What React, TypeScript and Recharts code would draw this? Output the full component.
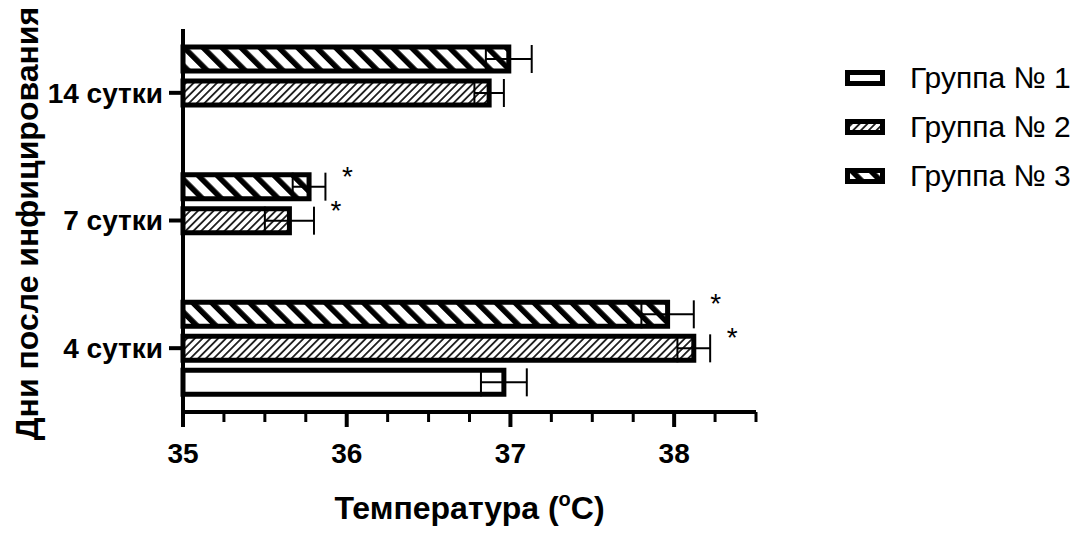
import React from 'react';
import { BarChart, Bar, XAxis, YAxis, ErrorBar, LabelList, Label } from 'recharts';

// values (°C), top category first
const days = ['14 сутки', '7 сутки', '4 сутки'];
const group1 = [null, null, 36.96];
const group1Err = [null, null, 0.14];
const group2 = [36.87, 35.65, 38.12];
const group2Err = [0.09, 0.15, 0.1];
const group3 = [36.99, 35.77, 37.96];
const group3Err = [0.14, 0.1, 0.16];
const group2Star = [false, true, true];
const group3Star = [false, true, true];

const xTicks = [35, 35.25, 35.5, 35.75, 36, 36.25, 36.5, 36.75, 37, 37.25, 37.5, 37.75, 38, 38.25, 38.5];
const xLabels = [35, 36, 37, 38];
const groupNames = ['Группа № 1', 'Группа № 2', 'Группа № 3'];
const groupFills = ['#fff', 'url(#hatchThin)', 'url(#hatchThick)'];

const data = days.map((day, i) => ({
  day,
  g1: group1[i],
  g1e: group1Err[i],
  g2: group2[i],
  g2e: group2Err[i],
  g3: group3[i],
  g3e: group3Err[i],
}));

const FONT = '"Liberation Sans", Arial, sans-serif';

const XTick = (props: any) => {
  const { x, y, payload } = props;
  const major = xLabels.includes(payload.value);
  return (
    <g>
      <line x1={x} x2={x} y1={y} y2={y + (major ? 15 : 10)} stroke="#000" strokeWidth={major ? 4 : 3} />
      {major && (
        <text x={x} y={y + 51} textAnchor="middle" fontSize={28} fontWeight="bold" fontFamily={FONT} fill="#000">
          {payload.value}
        </text>
      )}
    </g>
  );
};

// asterisk just right of the error bar end
const starLabel = (stars: boolean[], vals: (number | null)[], errs: (number | null)[]) => (props: any) => {
  const vb = props.viewBox || props;
  const { index } = props;
  const v = vals[index];
  if (!stars[index] || v == null) return null;
  const pxPerUnit = vb.width / (v - 35);
  const ex = vb.x + vb.width + (errs[index] || 0) * pxPerUnit;
  return (
    <text x={ex + 22} y={vb.y + 11} textAnchor="middle" fontSize={28} fontFamily={FONT} fill="#000">
      *
    </text>
  );
};

const Patterns = ({ suffix = '' }: { suffix?: string }) => (
  <defs>
    <pattern id={`hatchThin${suffix}`} patternUnits="userSpaceOnUse" width={5.5} height={10} patternTransform="rotate(45)">
      <rect width={5.5} height={10} fill="#fff" />
      <line x1={2.75} y1={0} x2={2.75} y2={10} stroke="#000" strokeWidth={1.6} />
    </pattern>
    <pattern id={`hatchThick${suffix}`} patternUnits="userSpaceOnUse" width={13.4} height={10} patternTransform="rotate(-45)">
      <rect width={13.4} height={10} fill="#fff" />
      <rect x={0} y={0} width={5.5} height={10} fill="#000" />
    </pattern>
  </defs>
);

const Legend = () => (
  <div style={{ position: 'absolute', left: 837, top: 45, fontFamily: FONT }}>
    {groupNames.map((name, i) => (
      <div key={name} style={{ display: 'flex', alignItems: 'center', height: 49 }}>
        <svg width={40} height={16} style={{ display: 'block' }}>
          <Patterns suffix={`L${i}`} />
          <rect
            x={2.5}
            y={2.5}
            width={35}
            height={11}
            fill={i === 0 ? '#fff' : `url(#${i === 1 ? 'hatchThin' : 'hatchThick'}L${i})`}
            stroke="#000"
            strokeWidth={5}
          />
        </svg>
        <span style={{ marginLeft: 25, fontSize: 30, color: '#000', lineHeight: '34px' }}>{name}</span>
      </div>
    ))}
  </div>
);

export default function App() {
  return (
    <div style={{ position: 'relative', width: 1072, height: 521 }}>
      <svg width={0} height={0} style={{ position: 'absolute' }}>
        <Patterns />
      </svg>
      <BarChart
        layout="vertical"
        width={1072}
        height={521}
        data={data}
        margin={{ top: 21, right: 324, bottom: 0, left: 0 }}
        barGap={10}
      >
        <XAxis
          type="number"
          domain={[35, 38.5]}
          ticks={xTicks}
          interval={0}
          tickSize={0}
          tickMargin={0}
          tickLine={false}
          tick={<XTick />}
          axisLine={{ stroke: '#000', strokeWidth: 4 }}
          height={117}
        >
          <Label
            content={({ viewBox }: any) => (
              <text
                x={viewBox.x + viewBox.width / 2}
                y={viewBox.y + 107}
                textAnchor="middle"
                fontSize={32}
                fontWeight="bold"
                fontFamily={FONT}
                fill="#000"
              >
                Температура (<tspan dy={-13} fontSize={20}>o</tspan>
                <tspan dy={13}>C)</tspan>
              </text>
            )}
          />
        </XAxis>
        <YAxis
          type="category"
          dataKey="day"
          width={175}
          interval={0}
          tickSize={14}
          tickMargin={6}
          tickLine={{ stroke: '#000', strokeWidth: 4 }}
          axisLine={{ stroke: '#000', strokeWidth: 4 }}
          tick={{ fill: '#000', fontSize: 28, fontWeight: 'bold', fontFamily: FONT }}
        >
          <Label
            content={({ viewBox }: any) => {
              const cx = 30;
              const cy = viewBox.y + viewBox.height / 2 + 3;
              return (
                <text
                  x={cx}
                  y={cy}
                  transform={`rotate(-90, ${cx}, ${cy})`}
                  textAnchor="middle"
                  fontSize={32}
                  fontWeight="bold"
                  fontFamily={FONT}
                  fill="#000"
                >
                  Дни после инфицирования
                </text>
              );
            }}
          />
        </YAxis>
        <Bar dataKey="g3" fill={groupFills[2]} stroke="#000" strokeWidth={5} barSize={24} isAnimationActive={false}>
          <ErrorBar dataKey="g3e" direction="x" width={14} stroke="#000" strokeWidth={2} />
          <LabelList dataKey="g3" content={starLabel(group3Star, group3, group3Err)} />
        </Bar>
        <Bar dataKey="g2" fill={groupFills[1]} stroke="#000" strokeWidth={5} barSize={24} isAnimationActive={false}>
          <ErrorBar dataKey="g2e" direction="x" width={14} stroke="#000" strokeWidth={2} />
          <LabelList dataKey="g2" content={starLabel(group2Star, group2, group2Err)} />
        </Bar>
        <Bar dataKey="g1" fill={groupFills[0]} stroke="#000" strokeWidth={5} barSize={24} isAnimationActive={false}>
          <ErrorBar dataKey="g1e" direction="x" width={14} stroke="#000" strokeWidth={2} />
        </Bar>
      </BarChart>
      <Legend />
    </div>
  );
}
